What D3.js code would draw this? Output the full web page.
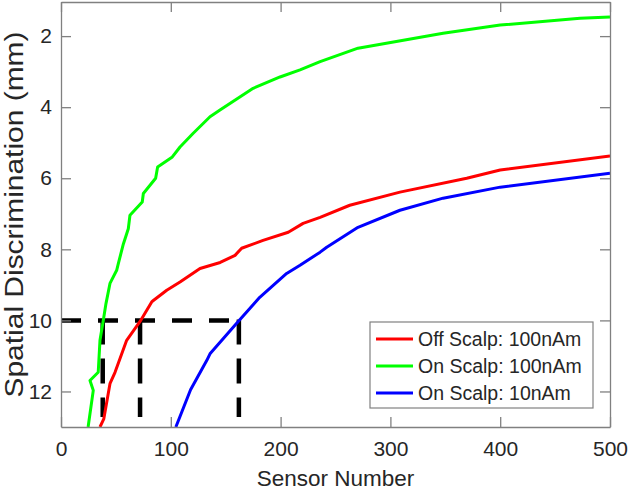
<!DOCTYPE html>
<html>
<head>
<meta charset="utf-8">
<script src="https://cdn.jsdelivr.net/npm/d3@7"></script>
<style>
  body { margin: 0; background: #fff; }
  text { font-family: "Liberation Sans", Arial, sans-serif; fill: #262626; }
</style>
</head>
<body>
<div id="chart"></div>
<script>
// sensor number vs spatial discrimination (mm)
const offScalp100 = [
  [35.5, 13.0], [39, 12.77], [44.6, 11.78], [49.2, 11.46], [59.8, 10.56],
  [72, 10.03], [82.6, 9.48], [84.1, 9.44], [96.3, 9.15], [108.4, 8.92],
  [126.6, 8.54], [145, 8.37], [158.5, 8.17], [164.5, 7.97], [184, 7.75],
  [207, 7.52], [220.5, 7.27], [236, 7.1], [263, 6.76], [308.7, 6.39],
  [369.5, 6.0], [400, 5.77], [500, 5.37]
];
const onScalp100 = [
  [24.7, 13.0], [29.4, 11.97], [26.4, 11.69], [33.9, 11.46], [35.5, 10.56],
  [38.5, 10.0], [41, 9.52], [44.6, 8.96], [50.7, 8.59], [52.2, 8.4],
  [56.8, 7.85], [61.3, 7.42], [62.8, 7.04], [74, 6.67], [75, 6.43],
  [86.2, 6.0], [88, 5.68], [101.4, 5.4], [108.4, 5.12], [120.2, 4.74],
  [135.7, 4.27], [144.8, 4.08], [175, 3.47], [199.5, 3.15], [217.7, 2.95],
  [236, 2.72], [270.5, 2.34], [348, 1.92], [400, 1.69], [472.7, 1.5], [500, 1.46]
];
const onScalp10 = [
  [104.6, 13.0], [118, 11.95], [132.7, 11.13], [135.7, 10.94], [160, 10.08],
  [181, 9.35], [205.5, 8.68], [217.7, 8.45], [236, 8.08], [242, 7.94],
  [270.5, 7.38], [308.7, 6.9], [348, 6.56], [400, 6.25], [500, 5.86]
];
const seriesNames = ["Off Scalp: 100nAm", "On Scalp: 100nAm", "On Scalp: 10nAm"];
const seriesColors = ["#ff0000", "#00ff00", "#0000ff"];
const xTicks = [0, 100, 200, 300, 400, 500];
const yTicks = [2, 4, 6, 8, 10, 12];
// threshold guide: 10 mm and the sensor counts where each curve reaches it
const guideY = 10;
const guideXs = [38, 72, 162];
const guideBottom = 12.72;

const W = 628, H = 490;
const margin = {left: 61, top: 2, right: 18, bottom: 63};

const svg = d3.select("#chart").append("svg")
  .attr("width", W).attr("height", H);

const x = d3.scaleLinear().domain([0, 500]).range([margin.left, W - margin.right]);
const y = d3.scaleLinear().domain([1.04, 13]).range([margin.top, H - margin.bottom]);

svg.append("clipPath").attr("id", "plot-clip")
  .append("rect")
  .attr("x", x(0)).attr("y", y.range()[0])
  .attr("width", x(500) - x(0)).attr("height", y.range()[1] - y.range()[0]);

const plot = svg.append("g").attr("clip-path", "url(#plot-clip)");

const line = d3.line().x(d => x(d[0])).y(d => y(d[1]));

// dashed guides
plot.append("line")
  .attr("x1", x(0)).attr("x2", x(guideXs[2]))
  .attr("y1", y(guideY)).attr("y2", y(guideY))
  .attr("stroke", "#000").attr("stroke-width", 4.5)
  .attr("stroke-dasharray", "20,17");
plot.selectAll(".vguide")
  .data(guideXs)
  .join("line")
  .attr("class", "vguide")
  .attr("x1", d => x(d)).attr("x2", d => x(d))
  .attr("y1", y(guideY) - 1).attr("y2", y(guideBottom))
  .attr("stroke", "#000").attr("stroke-width", 4.5)
  .attr("stroke-dasharray", "25,14");

const allSeries = [offScalp100, onScalp100, onScalp10];
plot.selectAll(".series")
  .data(allSeries)
  .join("path")
  .attr("class", "series")
  .attr("d", line)
  .attr("fill", "none")
  .attr("stroke", (d, i) => seriesColors[i])
  .attr("stroke-width", 3)
  .attr("stroke-linejoin", "round");

// axes, ticks inward on all four sides
const axisColor = "#808080";
const tickLen = 10;
svg.append("g")
  .attr("transform", `translate(0,${y(13)})`)
  .call(d3.axisBottom(x).tickValues(xTicks).tickSizeInner(-tickLen).tickSizeOuter(0).tickPadding(14))
  .call(g => g.selectAll("text").attr("font-size", 21).attr("dy", "0.71em"));
svg.append("g")
  .attr("transform", `translate(0,${y(1.04)})`)
  .call(d3.axisTop(x).tickValues(xTicks).tickSizeInner(-tickLen).tickSizeOuter(0))
  .call(g => g.selectAll("text").remove());
svg.append("g")
  .attr("transform", `translate(${x(0)},0)`)
  .call(d3.axisLeft(y).tickValues(yTicks).tickSizeInner(-tickLen).tickSizeOuter(0).tickPadding(9))
  .call(g => g.selectAll("text").attr("font-size", 21));
svg.append("g")
  .attr("transform", `translate(${x(500)},0)`)
  .call(d3.axisRight(y).tickValues(yTicks).tickSizeInner(-tickLen).tickSizeOuter(0))
  .call(g => g.selectAll("text").remove());
svg.selectAll(".domain, .tick line")
  .attr("stroke", axisColor).attr("stroke-width", 1.3);
svg.selectAll(".tick text").attr("fill", "#262626")
  .style("font-family", "'Liberation Sans', Arial, sans-serif");

svg.append("text")
  .attr("x", (x(0) + x(500)) / 2).attr("y", 486)
  .attr("text-anchor", "middle").attr("font-size", 22.5)
  .text("Sensor Number");
svg.append("text")
  .attr("transform", `translate(23,${(y.range()[0] + y.range()[1]) / 2}) rotate(-90)`)
  .attr("text-anchor", "middle").attr("font-size", 26)
  .attr("textLength", 366).attr("lengthAdjust", "spacingAndGlyphs")
  .text("Spatial Discrimination (mm)");

// legend
const legend = svg.append("g").attr("transform", "translate(370,322)");
legend.append("rect")
  .attr("width", 223).attr("height", 86)
  .attr("fill", "#fff").attr("stroke", axisColor).attr("stroke-width", 1.2);
const rows = legend.selectAll(".row")
  .data(seriesNames)
  .join("g")
  .attr("class", "row")
  .attr("transform", (d, i) => `translate(0,${17 + i * 27})`);
rows.append("line")
  .attr("x1", 6).attr("x2", 43)
  .attr("stroke", (d, i) => seriesColors[i]).attr("stroke-width", 3);
rows.append("text")
  .attr("x", 48).attr("dy", "0.35em").attr("font-size", 19.5)
  .text(d => d);
</script>
</body>
</html>
